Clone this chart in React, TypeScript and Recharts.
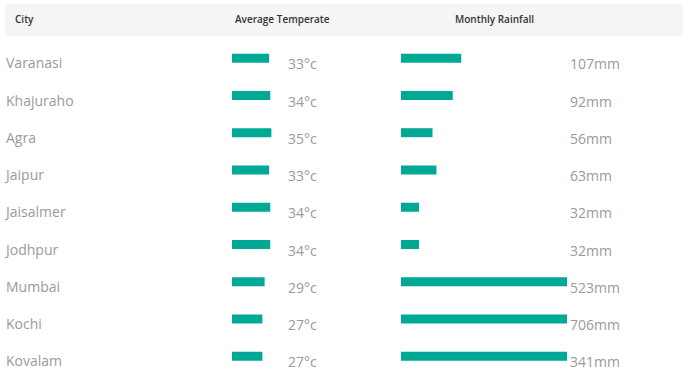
import React from "react";
import { BarChart, Bar, XAxis, YAxis } from "recharts";

const cities = ["Varanasi", "Khajuraho", "Agra", "Jaipur", "Jaisalmer", "Jodhpur", "Mumbai", "Kochi", "Kovalam"];
const temps = [33, 34, 35, 33, 34, 34, 29, 27, 27];
const rainfall = [107, 92, 56, 63, 32, 32, 523, 706, 341];
const headers = ["City", "Average Temperate", "Monthly Rainfall"];

const data = cities.map((city, i) => ({ city, temp: temps[i], rain: rainfall[i] }));

const TEAL = "#00a896";
const GREY = "#9a9a9a";
const FONT = "'Open Sans', sans-serif";
const ROW_MARGIN = { top: 39.7, bottom: 14 };

const CityTick = (props: any) => (
  <text x={6} y={props.y + 10} textAnchor="start" fill={GREY} fontSize={14} fontFamily={FONT}>
    {props.payload.value}
  </text>
);

const valueTick = (values: number[], unit: string, dx: number) => (props: any) => (
  <text x={props.x + dx} y={props.y + 11} textAnchor="start" fill={GREY} fontSize={14} fontFamily={FONT}>
    {values[props.index] + unit}
  </text>
);

export default function App() {
  return (
    <div style={{ position: "absolute", left: 0, top: 0, width: 688, height: 389, background: "#fff", fontFamily: FONT }}>
      <div style={{ position: "absolute", left: 5, top: 4, width: 678, height: 32, background: "#f5f5f5" }} />
      {headers.map((h, i) => (
        <div
          key={h}
          style={{
            position: "absolute",
            left: [15, 235, 455][i],
            top: 12,
            fontSize: 10,
            fontWeight: 600,
            color: "#333",
            lineHeight: "14px",
          }}
        >
          {h}
        </div>
      ))}

      <div style={{ position: "absolute", left: 0, top: 0 }}>
        <BarChart width={400} height={389} layout="vertical" data={data} margin={{ ...ROW_MARGIN, left: 0, right: 0 }}>
          <XAxis type="number" domain={[0, 40]} hide />
          <YAxis yAxisId="l" dataKey="city" type="category" width={232} axisLine={false} tickLine={false} tick={CityTick} />
          <YAxis
            yAxisId="r"
            orientation="right"
            dataKey="city"
            type="category"
            width={123}
            axisLine={false}
            tickLine={false}
            tick={valueTick(temps, "°c", 3)}
          />
          <Bar yAxisId="l" dataKey="temp" fill={TEAL} barSize={9} isAnimationActive={false} />
        </BarChart>
      </div>

      <div style={{ position: "absolute", left: 0, top: 0 }}>
        <BarChart width={688} height={389} layout="vertical" data={data} margin={{ ...ROW_MARGIN, left: 401, right: 0 }}>
          <XAxis type="number" domain={[0, 295]} allowDataOverflow hide />
          <YAxis yAxisId="l" dataKey="city" type="category" hide />
          <YAxis
            yAxisId="r"
            orientation="right"
            dataKey="city"
            type="category"
            width={121}
            axisLine={false}
            tickLine={false}
            tick={valueTick(rainfall, "mm", -5)}
          />
          <Bar yAxisId="l" dataKey="rain" fill={TEAL} barSize={9} isAnimationActive={false} />
        </BarChart>
      </div>
    </div>
  );
}
